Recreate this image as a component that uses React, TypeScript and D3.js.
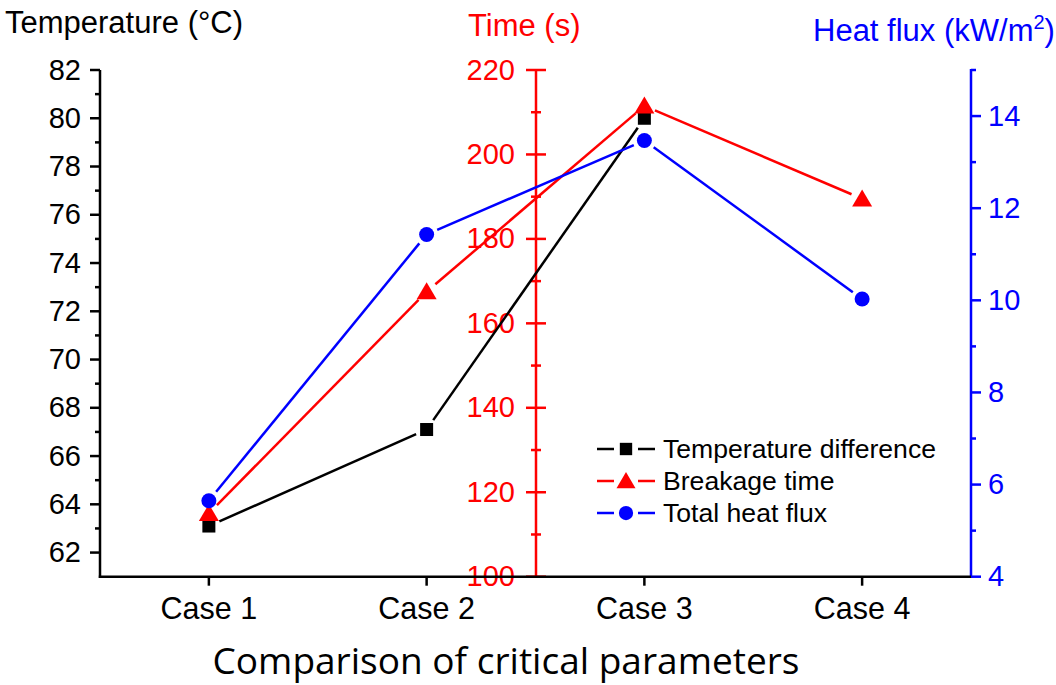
import React from "react";
import * as d3 from "d3";

const categories = ["Case 1", "Case 2", "Case 3", "Case 4"];
const tempValues: (number | null)[] = [63.1, 67.1, 80.0, null];
const timeValues: (number | null)[] = [115, 167.5, 211.5, 189.5];
const fluxValues: (number | null)[] = [5.65, 11.43, 13.47, 10.03];

const tempTicks = [62, 64, 66, 68, 70, 72, 74, 76, 78, 80, 82];
const tempMinor = [63, 65, 67, 69, 71, 73, 75, 77, 79, 81];
const timeTicks = [100, 120, 140, 160, 180, 200, 220];
const timeMinor = [110, 130, 150, 170, 190, 210];
const fluxTicks = [4, 6, 8, 10, 12, 14];
const fluxMinor = [5, 7, 9, 11, 13, 15];

const seriesNames = ["Temperature difference", "Breakage time", "Total heat flux"];

const W = 1056;
const H = 685;
const left = 100;
const right = 971;
const top = 70;
const bottom = 576.7;
const midX = 536;

const FONT = "'Liberation Sans', Arial, sans-serif";

function gapSegments(pts: [number, number][], gap: number) {
  const segs: [number, number, number, number][] = [];
  for (let i = 0; i < pts.length - 1; i++) {
    const [x1, y1] = pts[i];
    const [x2, y2] = pts[i + 1];
    const dx = x2 - x1, dy = y2 - y1;
    const len = Math.hypot(dx, dy);
    if (len <= 2 * gap) continue;
    const ux = dx / len, uy = dy / len;
    segs.push([x1 + ux * gap, y1 + uy * gap, x2 - ux * gap, y2 - uy * gap]);
  }
  return segs;
}

function Marker({ kind, x, y, color, s = 1 }: { kind: string; x: number; y: number; color: string; s?: number }) {
  if (kind === "square") {
    const a = 13 * s;
    return <rect x={x - a / 2} y={y - a / 2} width={a} height={a} fill={color} />;
  }
  if (kind === "triangle") {
    const w = 20 * s, h = 17 * s;
    const sym = `M${x},${y - h * 0.55} L${x + w / 2},${y + h * 0.45} L${x - w / 2},${y + h * 0.45} Z`;
    return <path d={sym} fill={color} />;
  }
  return <circle cx={x} cy={y} r={7.5 * s} fill={color} />;
}

export default function App() {
  const x = d3.scalePoint<string>().domain(categories).range([left, right]).padding(0.5);
  const yTemp = d3.scaleLinear().domain([61, 82]).range([bottom, top]);
  const yTime = d3.scaleLinear().domain([100, 220]).range([bottom, top]);
  const yFlux = d3.scaleLinear().domain([4, 15]).range([bottom, top]);

  const series = [
    { name: seriesNames[0], values: tempValues, y: yTemp, color: "#000000", kind: "square" },
    { name: seriesNames[1], values: timeValues, y: yTime, color: "#ff0000", kind: "triangle" },
    { name: seriesNames[2], values: fluxValues, y: yFlux, color: "#0000ff", kind: "circle" },
  ];

  const sw = 2.5;

  return (
    <svg width={W} height={H} style={{ position: "absolute", left: 0, top: 0, background: "#fff" }} fontFamily={FONT}>
      <rect x={0} y={0} width={W} height={H} fill="#fff" />

      {/* Left axis */}
      <line x1={left} y1={top} x2={left} y2={bottom + 1.2} stroke="#000" strokeWidth={sw} />
      {tempTicks.map((t) => (
        <g key={"lt" + t}>
          <line x1={left - 10} x2={left} y1={yTemp(t)} y2={yTemp(t)} stroke="#000" strokeWidth={sw} />
          <text x={81} y={yTemp(t)} dy="0.33em" textAnchor="end" fontSize={29} fill="#000">{t}</text>
        </g>
      ))}
      {tempMinor.map((t) => (
        <line key={"lm" + t} x1={left - 5} x2={left} y1={yTemp(t)} y2={yTemp(t)} stroke="#000" strokeWidth={sw} />
      ))}

      {/* Middle red axis */}
      <line x1={midX} y1={top} x2={midX} y2={bottom} stroke="#ff0000" strokeWidth={sw} />
      {timeTicks.map((t) => (
        <g key={"mt" + t}>
          <line x1={midX - 10} x2={midX + 10} y1={yTime(t)} y2={yTime(t)} stroke="#ff0000" strokeWidth={sw} />
          <text x={515} y={yTime(t)} dy="0.33em" textAnchor="end" fontSize={29} fill="#ff0000">{t}</text>
        </g>
      ))}
      {timeMinor.map((t) => (
        <line key={"mm" + t} x1={midX - 5} x2={midX + 5} y1={yTime(t)} y2={yTime(t)} stroke="#ff0000" strokeWidth={sw} />
      ))}

      {/* Right blue axis */}
      <line x1={right} y1={top - 1} x2={right} y2={bottom + 1.2} stroke="#0000ff" strokeWidth={sw} />
      {fluxTicks.map((t) => (
        <g key={"rt" + t}>
          <line x1={right} x2={right + 10} y1={yFlux(t)} y2={yFlux(t)} stroke="#0000ff" strokeWidth={sw} />
          <text x={988} y={yFlux(t)} dy="0.33em" textAnchor="start" fontSize={29} fill="#0000ff">{t}</text>
        </g>
      ))}
      {fluxMinor.map((t) => (
        <line key={"rm" + t} x1={right} x2={right + 5} y1={yFlux(t)} y2={yFlux(t)} stroke="#0000ff" strokeWidth={sw} />
      ))}

      {/* Bottom axis */}
      <line x1={left - 1.2} x2={right} y1={bottom} y2={bottom} stroke="#000" strokeWidth={sw} />
      {categories.map((c) => (
        <g key={c}>
          <line x1={x(c)!} x2={x(c)!} y1={bottom} y2={bottom + 9} stroke="#000" strokeWidth={sw} />
          <text x={x(c)!} y={619} textAnchor="middle" fontSize={30.5} fill="#000">{c}</text>
        </g>
      ))}

      {/* Series */}
      {series.map((s) => {
        const pts: [number, number][] = [];
        categories.forEach((c, i) => {
          const v = s.values[i];
          if (v !== null && v !== undefined) pts.push([x(c)!, s.y(v)]);
        });
        const segs = gapSegments(pts, 11.5);
        return (
          <g key={s.name}>
            {segs.map((g, i) => (
              <line key={i} x1={g[0]} y1={g[1]} x2={g[2]} y2={g[3]} stroke={s.color} strokeWidth={sw} />
            ))}
          </g>
        );
      })}
      {series.map((s) => (
        <g key={s.name + "m"}>
          {categories.map((c, i) => {
            const v = s.values[i];
            if (v === null || v === undefined) return null;
            return <Marker key={c} kind={s.kind} x={x(c)!} y={s.y(v)} color={s.color} />;
          })}
        </g>
      ))}

      {/* Legend */}
      {series.map((s, i) => {
        const ly = 449 + i * 32;
        return (
          <g key={s.name + "l"}>
            <line x1={597} x2={614} y1={ly} y2={ly} stroke={s.color} strokeWidth={sw} />
            <line x1={638} x2={655} y1={ly} y2={ly} stroke={s.color} strokeWidth={sw} />
            <Marker kind={s.kind} x={626} y={ly} color={s.color} s={0.95} />
            <text x={663} y={ly} dy="0.35em" fontSize={26.6} fill="#000">{s.name}</text>
          </g>
        );
      })}

      {/* Axis titles */}
      <text x={5} y={33} fontSize={31} fill="#000">Temperature (°C)</text>
      <text x={468} y={36} fontSize={31} fill="#ff0000">Time (s)</text>
      <text x={813} y={41} fontSize={31} fill="#0000ff">
        Heat flux (kW/m<tspan dy={-12} fontSize={20}>2</tspan><tspan dy={12}>)</tspan>
      </text>
      <text x={506} y={674} textAnchor="middle" fontSize={36} fontFamily="'Open Sans', sans-serif" textLength={587} lengthAdjust="spacingAndGlyphs" fill="#000">
        Comparison of critical parameters
      </text>
    </svg>
  );
}
